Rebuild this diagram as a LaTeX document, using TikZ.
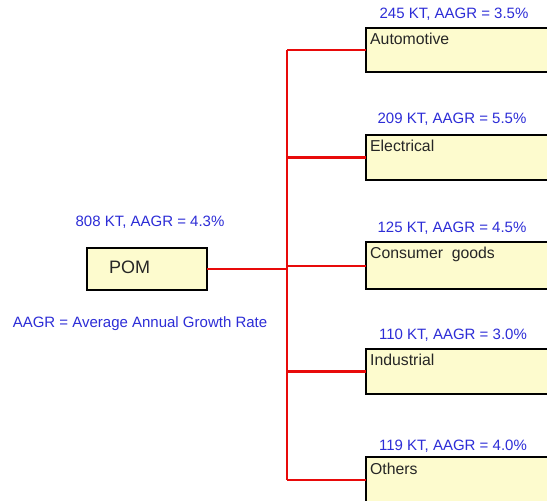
\documentclass[tikz,border=0pt]{standalone}
\usepackage{fontspec}
\setmainfont{Liberation Sans}
\definecolor{lblue}{RGB}{45,45,215}
\definecolor{boxfill}{RGB}{253,251,206}
\definecolor{lred}{RGB}{232,10,10}
\tikzset{
  x=1pt, y=-1pt,
  catbox/.style={draw=black, line width=2pt, fill=boxfill, minimum width=200pt, inner sep=0pt, outer sep=0pt, anchor=north west},
  boxtext/.style={anchor=north west, inner sep=0pt, text=black!85, font=\fontsize{15.8}{18}\selectfont},
  valtext/.style={text=lblue, inner sep=0pt, font=\fontsize{15}{17}\selectfont},
  conn/.style={draw=lred, line width=2pt},
  thickconn/.style={draw=lred, line width=3.5pt},
}
\begin{document}
\begin{tikzpicture}
\clip (0,0) rectangle (547,501);
\fill[white] (0,0) rectangle (547,501);
% root
\node[draw=black, line width=2pt, fill=boxfill, minimum width=120pt, minimum height=42pt, inner sep=0pt, outer sep=0pt] (pom) at (147,269) {};
\node[anchor=west, inner sep=0pt, text=black!85, font=\fontsize{18}{20}\selectfont] (pomtext) at (109,267) {POM};
\node[valtext] (pomval) at (150,222) {808 KT, AAGR = 4.3\%};
\node[valtext] (legend) at (140,324) {AAGR = Average Annual Growth Rate};
% trunk
\coordinate (trunktop) at (287,50);
\coordinate (trunkbot) at (287,479);
% category boxes
\node[catbox, minimum height=44pt] (auto) at (366,28) {};
\node[catbox, minimum height=45pt] (elec) at (366,135) {};
\node[catbox, minimum height=47pt] (cons) at (366,242) {};
\node[catbox, minimum height=45pt] (indu) at (366,349) {};
\node[catbox, minimum height=45pt] (oth) at (366,457) {};
\node[boxtext] (autot) at (370,33) {Automotive};
\node[boxtext] (elect) at (370,140) {Electrical};
\node[boxtext] (const) at (370,247) {Consumer\ \ goods};
\node[boxtext] (indut) at (370,354) {Industrial};
\node[boxtext] (otht) at (370,463) {Others};
\node[valtext] (autov) at (454,14) {245 KT, AAGR = 3.5\%};
\node[valtext] (elecv) at (452,119) {209 KT, AAGR = 5.5\%};
\node[valtext] (consv) at (452,228) {125 KT, AAGR = 4.5\%};
\node[valtext] (induv) at (453,335) {110 KT, AAGR = 3.0\%};
\node[valtext] (othv) at (453,446) {119 KT, AAGR = 4.0\%};
% connectors
\draw[conn, line width=2.5pt] (auto.west -| trunktop) -- (oth.west -| trunktop);
\draw[conn] (pom.east) -- (pom.east -| trunktop);
\draw[conn] (auto.west -| trunktop) -- (auto.west);
\draw[thickconn] (elec.west -| trunktop) -- (elec.west);
\draw[conn] (cons.west -| trunktop) -- (cons.west);
\draw[thickconn] (indu.west -| trunktop) -- (indu.west);
\draw[conn] (oth.west -| trunktop) -- (oth.west);
\end{tikzpicture}
\end{document}
